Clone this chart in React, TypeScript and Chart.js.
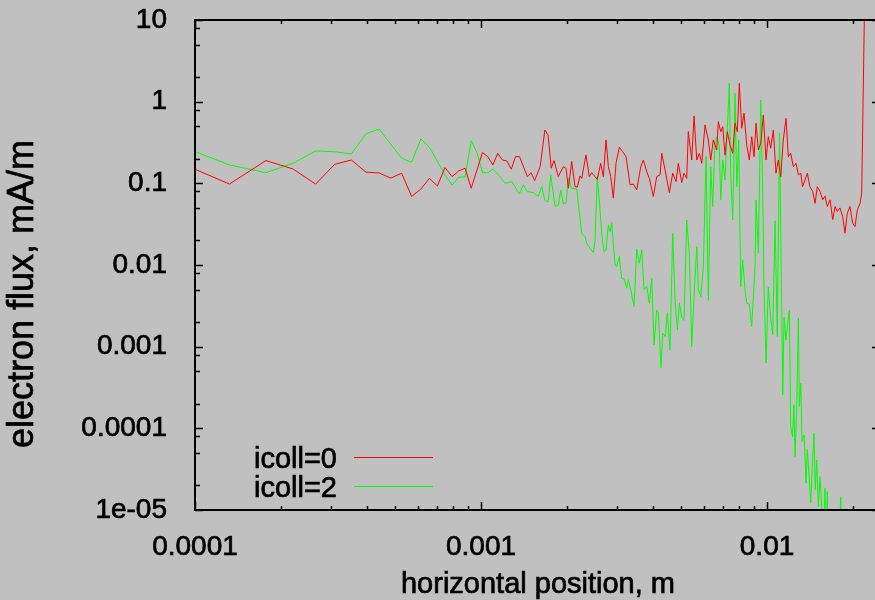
import React, { useEffect, useRef } from "react";
import { Chart, registerables } from "chart.js";

Chart.register(...registerables);

// ---- data ----
const seriesLabels = ["icoll=0", "icoll=2"];
const seriesColors = ["#ff0000", "#00ff00"];

const redX = [
  8.8e-5, 1.32e-4, 1.77e-4, 2.2e-4, 2.64e-4, 3.08e-4, 3.52e-4, 3.96e-4, 4.4e-4, 4.84e-4,
  5.28e-4, 5.72e-4, 6.16e-4, 6.6e-4, 7.04e-4, 7.48e-4, 7.92e-4, 8.36e-4, 8.8e-4, 9.24e-4,
  1.012e-3, 1.056e-3, 1.1e-3, 1.144e-3, 1.188e-3, 1.232e-3, 1.276e-3, 1.32e-3, 1.364e-3, 1.452e-3,
  1.496e-3, 1.54e-3, 1.61e-3, 1.672e-3, 1.716e-3, 1.76e-3, 1.8e-3, 1.863e-3, 1.94e-3, 1.983e-3,
  2.02e-3, 2.075e-3, 2.132e-3, 2.171e-3, 2.219e-3, 2.25e-3, 2.328e-3, 2.391e-3, 2.438e-3, 2.503e-3,
  2.55e-3, 2.62e-3, 2.677e-3, 2.736e-3, 2.787e-3, 2.841e-3, 2.901e-3, 2.965e-3, 3.045e-3, 3.129e-3,
  3.214e-3, 3.319e-3, 3.408e-3, 3.503e-3, 3.618e-3, 3.694e-3, 3.797e-3, 3.877e-3, 4.004e-3, 4.115e-3,
  4.227e-3, 4.285e-3, 4.4e-3, 4.555e-3, 4.681e-3, 4.807e-3, 4.897e-3, 5.032e-3, 5.126e-3, 5.238e-3,
  5.306e-3, 5.454e-3, 5.557e-3, 5.679e-3, 5.799e-3, 5.912e-3, 6.07e-3, 6.234e-3, 6.355e-3, 6.489e-3,
  6.669e-3, 6.756e-3, 6.888e-3, 7.0e-3, 7.13e-3, 7.264e-3, 7.423e-3, 7.587e-3, 7.729e-3, 7.874e-3,
  8.0e-3, 8.156e-3, 8.31e-3, 8.492e-3, 8.672e-3, 8.84e-3, 9.007e-3, 9.153e-3, 9.325e-3, 9.507e-3,
  9.707e-3, 9.92e-3, 1.01e-2, 1.03e-2, 1.052e-2, 1.075e-2, 1.095e-2, 1.117e-2, 1.14e-2, 1.165e-2,
  1.187e-2, 1.21e-2, 1.236e-2, 1.263e-2, 1.287e-2, 1.312e-2, 1.331e-2, 1.358e-2, 1.383e-2, 1.413e-2,
  1.445e-2, 1.472e-2, 1.499e-2, 1.532e-2, 1.566e-2, 1.595e-2, 1.625e-2, 1.661e-2, 1.697e-2, 1.729e-2,
  1.761e-2, 1.799e-2, 1.839e-2, 1.873e-2, 1.908e-2, 1.95e-2, 1.993e-2, 2.03e-2, 2.068e-2, 2.114e-2,
  2.143e-2, 2.19e-2,
];
const redY = [
  0.18, 0.098, 0.19, 0.15, 0.098, 0.171, 0.193, 0.137, 0.134, 0.116,
  0.133, 0.069, 0.085, 0.115, 0.093, 0.156, 0.121, 0.142, 0.153, 0.087,
  0.238, 0.212, 0.168, 0.233, 0.193, 0.188, 0.149, 0.212, 0.212, 0.121,
  0.135, 0.108, 0.16, 0.45, 0.391, 0.153, 0.19, 0.121, 0.16, 0.153,
  0.087, 0.185, 0.091, 0.09, 0.123, 0.115, 0.223, 0.121, 0.135, 0.121,
  0.112, 0.176, 0.121, 0.34, 0.16, 0.121, 0.066, 0.176, 0.277, 0.244,
  0.212, 0.096, 0.098, 0.083, 0.16, 0.193, 0.139, 0.115, 0.069, 0.121,
  0.127, 0.233, 0.146, 0.077, 0.133, 0.105, 0.176, 0.102, 0.133, 0.115,
  0.429, 0.193, 0.668, 0.193, 0.233, 0.176, 0.519, 0.34, 0.193, 0.34,
  0.256, 0.569, 0.429, 0.494, 0.223, 0.429, 0.295, 0.233, 0.544, 0.429,
  1.68, 0.472, 0.721, 0.295, 0.193, 0.373, 0.212, 0.544, 0.256, 0.31,
  0.687, 0.193, 0.373, 0.269, 0.45, 0.133, 0.193, 0.121, 0.34, 0.626,
  0.212, 0.233, 0.16, 0.176, 0.127, 0.133, 0.091, 0.11, 0.133, 0.091,
  0.079, 0.057, 0.091, 0.079, 0.063, 0.07, 0.052, 0.063, 0.036, 0.052,
  0.045, 0.05, 0.039, 0.0245, 0.043, 0.052, 0.0325, 0.0295, 0.047, 0.057,
  0.076, 12,
];

const greenX = [
  8.8e-5, 1.32e-4, 1.77e-4, 2.2e-4, 2.64e-4, 3.08e-4, 3.52e-4, 3.96e-4, 4.4e-4, 5.28e-4,
  5.72e-4, 6.16e-4, 6.6e-4, 7.48e-4, 7.92e-4, 8.36e-4, 8.8e-4, 9.24e-4, 9.68e-4, 1.012e-3,
  1.056e-3, 1.1e-3, 1.165e-3, 1.213e-3, 1.28e-3, 1.315e-3, 1.361e-3, 1.406e-3, 1.452e-3, 1.524e-3,
  1.586e-3, 1.63e-3, 1.674e-3, 1.719e-3, 1.753e-3, 1.815e-3, 1.863e-3, 1.9e-3, 1.94e-3, 1.983e-3,
  2.02e-3, 2.075e-3, 2.161e-3, 2.249e-3, 2.309e-3, 2.341e-3, 2.404e-3, 2.47e-3, 2.503e-3, 2.55e-3,
  2.592e-3, 2.642e-3, 2.692e-3, 2.736e-3, 2.787e-3, 2.825e-3, 2.864e-3, 2.942e-3, 2.982e-3, 3.045e-3,
  3.104e-3, 3.162e-3, 3.232e-3, 3.273e-3, 3.337e-3, 3.428e-3, 3.503e-3, 3.577e-3, 3.647e-3, 3.715e-3,
  3.797e-3, 3.877e-3, 3.953e-3, 4.027e-3, 4.115e-3, 4.169e-3, 4.26e-3, 4.318e-3, 4.41e-3, 4.481e-3,
  4.579e-3, 4.68e-3, 4.77e-3, 4.86e-3, 4.94e-3, 5.03e-3, 5.126e-3, 5.238e-3, 5.349e-3, 5.455e-3,
  5.557e-3, 5.679e-3, 5.753e-3, 5.865e-3, 5.99e-3, 6.12e-3, 6.234e-3, 6.355e-3, 6.457e-3, 6.58e-3,
  6.7e-3, 6.81e-3, 6.888e-3, 7.0e-3, 7.13e-3, 7.264e-3, 7.382e-3, 7.466e-3, 7.587e-3, 7.729e-3,
  7.837e-3, 7.963e-3, 8.09e-3, 8.22e-3, 8.377e-3, 8.492e-3, 8.672e-3, 8.84e-3, 9.08e-3, 9.153e-3,
  9.325e-3, 9.507e-3, 9.66e-3, 9.76e-3, 9.92e-3, 1.01e-2, 1.03e-2, 1.047e-2, 1.067e-2, 1.086e-2,
  1.106e-2, 1.135e-2, 1.147e-2, 1.165e-2, 1.178e-2, 1.197e-2, 1.21e-2, 1.228e-2, 1.241e-2, 1.253e-2,
  1.27e-2, 1.287e-2, 1.297e-2, 1.312e-2, 1.326e-2, 1.348e-2, 1.369e-2, 1.383e-2, 1.406e-2, 1.422e-2,
  1.44e-2, 1.46e-2, 1.475e-2, 1.492e-2, 1.512e-2, 1.532e-2, 1.553e-2, 1.573e-2, 1.595e-2, 1.608e-2,
  1.625e-2, 1.638e-2, 1.775e-2, 1.81e-2, 1.825e-2, 2.15e-2,
];
const greenY = [
  0.291, 0.168, 0.135, 0.176, 0.249, 0.244, 0.229, 0.403, 0.463, 0.203,
  0.181, 0.35, 0.277, 0.127, 0.095, 0.119, 0.12, 0.333, 0.238, 0.135,
  0.135, 0.149, 0.121, 0.1, 0.105, 0.091, 0.074, 0.096, 0.079, 0.077,
  0.069, 0.091, 0.061, 0.06, 0.127, 0.052, 0.054, 0.083, 0.056, 0.058,
  0.115, 0.087, 0.085, 0.0245, 0.0223, 0.0185, 0.0161, 0.0142, 0.0193, 0.121,
  0.0626, 0.0245, 0.0146, 0.0153, 0.031, 0.0256, 0.033, 0.01, 0.0096, 0.0127,
  0.0069, 0.0067, 0.0052, 0.0066, 0.005, 0.0031, 0.0156, 0.0105, 0.0153, 0.005,
  0.0055, 0.0034, 0.0069, 0.00105, 0.0028, 0.0026, 0.00055, 0.00146, 0.00133, 0.0026,
  0.00091, 0.0245, 0.0037, 0.0016, 0.0034, 0.0023, 0.0021, 0.0356, 0.0139, 0.001,
  0.0041, 0.0168, 0.005, 0.0041, 0.0096, 0.212, 0.0037, 0.16, 0.052, 0.34,
  0.373, 0.281, 0.0626, 0.193, 0.11, 0.45, 1.68, 0.121, 0.0356, 1.27,
  0.091, 0.34, 0.0054, 0.0116, 0.005, 0.0034, 0.0033, 0.00176, 0.0096, 0.0626,
  0.0139, 1.05, 0.0756, 0.0054, 0.00063, 0.0054, 0.0023, 0.0014, 0.035, 0.00133,
  0.414, 0.000257, 0.0023, 0.00121, 0.00176, 0.0028, 1.05e-4, 7.9e-5, 1.94e-4, 4.5e-5,
  1.85e-4, 2.23e-3, 1.85e-4, 3.57e-4, 6.9e-5, 8.3e-5, 2.13e-5, 5.5e-5, 2.34e-5, 1.21e-5,
  3.4e-5, 8.7e-5, 1.77e-5, 4.1e-5, 1.1e-5, 2.57e-5, 1.1e-5, 3e-6, 1.85e-5, 3e-6,
  1.68e-5, 3e-6, 3e-6, 1.45e-5, 3e-6, 1e-6,
];

const xRange = [1e-4, 0.02385];
const yRange = [1e-5, 10];
const xTickValues = [1e-4, 1e-3, 1e-2];
const xTickLabels = ["0.0001", "0.001", "0.01"];
const yTickValues = [10, 1, 0.1, 0.01, 0.001, 0.0001, 0.00001];
const yTickLabels = ["10", "1", "0.1", "0.01", "0.001", "0.0001", "1e-05"];
const xMinorMultipliers = [2, 3, 4, 5, 6, 7, 8, 9];
const yMinorMultipliers = [2, 5, 8];
const xTitle = "horizontal position, m";
const yTitle = "electron flux, mA/m";

const FONT = "'Liberation Sans', Arial, Helvetica, sans-serif";
const BG = "#c0c0c0";
const TEXT_STROKE = 0.7;

const drawText = (ctx: CanvasRenderingContext2D, s: string, x: number, y: number) => {
  ctx.fillText(s, x, y);
  ctx.strokeText(s, x, y);
};

const gnuplotPlugin = {
  id: "gnuplotLook",
  beforeDraw(chart: any) {
    const { ctx, width, height } = chart;
    ctx.save();
    ctx.fillStyle = BG;
    ctx.fillRect(0, 0, width, height);
    ctx.restore();
  },
  afterDatasetsDraw(chart: any) {
    const { ctx, chartArea: ca, scales } = chart;
    const xs = scales.x;
    const ys = scales.y;
    const rightEdge = ca.right + 5;
    ctx.save();
    ctx.strokeStyle = "#000";
    ctx.lineWidth = 2;
    ctx.beginPath();
    ctx.moveTo(rightEdge, ca.top);
    ctx.lineTo(ca.left, ca.top);
    ctx.lineTo(ca.left, ca.bottom);
    ctx.lineTo(rightEdge, ca.bottom);
    ctx.stroke();

    ctx.lineWidth = 1.5;
    ctx.beginPath();
    for (let e = -5; e <= -1; e++) {
      for (const m of [1, ...xMinorMultipliers]) {
        const v = m * Math.pow(10, e);
        if (v < xRange[0] * 0.9999 || v > xRange[1]) continue;
        const px = Math.round(xs.getPixelForValue(v)) + 0.5;
        const len = m === 1 ? 8 : 4;
        ctx.moveTo(px, ca.bottom);
        ctx.lineTo(px, ca.bottom - len);
        ctx.moveTo(px, ca.top);
        ctx.lineTo(px, ca.top + len);
      }
    }
    for (let e = -6; e <= 1; e++) {
      for (const m of [1, ...yMinorMultipliers]) {
        const v = m * Math.pow(10, e);
        if (v < yRange[0] * 0.9999 || v > yRange[1] * 1.0001) continue;
        const py = Math.round(ys.getPixelForValue(v)) + 0.5;
        const len = m === 1 ? 8 : 5;
        ctx.moveTo(ca.left, py);
        ctx.lineTo(ca.left + len, py);
        ctx.moveTo(rightEdge, py);
        ctx.lineTo(rightEdge - len, py);
      }
    }
    ctx.stroke();
    ctx.restore();
  },
  afterDraw(chart: any) {
    const { ctx, chartArea: ca } = chart;
    ctx.save();
    ctx.fillStyle = "#000";
    ctx.strokeStyle = "#000";
    ctx.lineWidth = TEXT_STROKE;
    ctx.font = `29px ${FONT}`;
    ctx.textAlign = "center";
    ctx.textBaseline = "alphabetic";
    drawText(ctx, xTitle, (ca.left + ca.right) / 2 + 3, 593);
    ctx.save();
    ctx.translate(33, 294);
    ctx.rotate(-Math.PI / 2);
    ctx.font = `36px ${FONT}`;
    ctx.textAlign = "center";
    drawText(ctx, yTitle, 0, 0);
    ctx.restore();
    const ds = chart.data.datasets;
    const baselines = [468, 497];
    const lineYs = [457.5, 486.5];
    ctx.font = `29px ${FONT}`;
    ctx.textAlign = "right";
    ds.forEach((d: any, i: number) => {
      ctx.fillStyle = "#000";
      ctx.strokeStyle = "#000";
      ctx.lineWidth = TEXT_STROKE;
      drawText(ctx, d.label, 337, baselines[i]);
      ctx.strokeStyle = d.borderColor;
      ctx.lineWidth = 1;
      ctx.beginPath();
      ctx.moveTo(354, lineYs[i]);
      ctx.lineTo(433, lineYs[i]);
      ctx.stroke();
    });
    ctx.restore();
  },
};

export default function App() {
  const canvasRef = useRef<HTMLCanvasElement | null>(null);

  useEffect(() => {
    if (!canvasRef.current) return;
    const toPoints = (xs: number[], ys: number[]) => xs.map((x, i) => ({ x, y: ys[i] }));
    const chart = new Chart(canvasRef.current, {
      type: "line",
      data: {
        datasets: [
          {
            label: seriesLabels[0],
            data: toPoints(redX, redY),
            borderColor: seriesColors[0],
            backgroundColor: seriesColors[0],
            borderWidth: 1,
            pointRadius: 0,
            tension: 0,
          },
          {
            label: seriesLabels[1],
            data: toPoints(greenX, greenY),
            borderColor: seriesColors[1],
            backgroundColor: seriesColors[1],
            borderWidth: 1,
            pointRadius: 0,
            tension: 0,
          },
        ],
      },
      options: {
        responsive: false,
        animation: false,
        layout: { padding: { top: 20, left: 0, right: 0, bottom: 0 } },
        plugins: {
          legend: { display: false },
          tooltip: { enabled: false },
        },
        scales: {
          x: {
            type: "logarithmic",
            min: xRange[0],
            max: xRange[1],
            grid: { display: false },
            border: { display: false },
            afterBuildTicks: (scale: any) => {
              scale.ticks = xTickValues.map((v) => ({ value: v }));
            },
            afterFit: (scale: any) => {
              scale.height = 90;
              scale.paddingLeft = 0;
              scale.paddingRight = 0;
            },
            ticks: {
              autoSkip: false,
              maxRotation: 0,
              minRotation: 0,
              padding: 12,
              color: "#000",
              textStrokeColor: "#000",
              textStrokeWidth: TEXT_STROKE,
              font: { family: FONT, size: 28 },
              callback: (_v: any, i: number) => xTickLabels[i],
            },
          },
          y: {
            type: "logarithmic",
            min: yRange[0],
            max: yRange[1],
            grid: { display: false },
            border: { display: false },
            afterBuildTicks: (scale: any) => {
              scale.ticks = yTickValues.map((v) => ({ value: v }));
            },
            afterFit: (scale: any) => {
              scale.width = 195;
              scale.paddingTop = 0;
              scale.paddingBottom = 0;
            },
            ticks: {
              autoSkip: false,
              padding: 20,
              color: "#000",
              textStrokeColor: "#000",
              textStrokeWidth: TEXT_STROKE,
              font: { family: FONT, size: 28 },
              callback: (_v: any, i: number) => yTickLabels[i],
            },
          },
        },
      },
      plugins: [gnuplotPlugin],
    } as any);
    return () => chart.destroy();
  }, []);

  return (
    <div style={{ position: "fixed", left: 0, top: 0, width: 875, height: 600, background: BG }}>
      <canvas ref={canvasRef} width={875} height={600} style={{ display: "block" }} />
    </div>
  );
}
